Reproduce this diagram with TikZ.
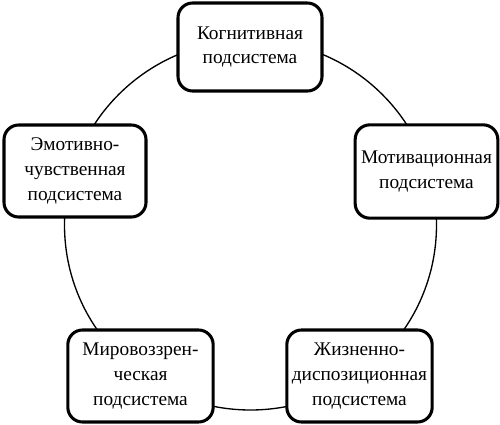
\documentclass[tikz,border=0pt]{standalone}
\usepackage{fontspec}
\setmainfont{Liberation Serif}
\begin{document}
\begin{tikzpicture}[x=0.75pt,y=-0.75pt,
  sub/.style={draw=black,line width=2.3pt,rounded corners=11pt,fill=white,
    align=center,font=\fontsize{14.5}{18.5}\selectfont,inner sep=0pt},
  ring/.style={draw=black,line width=1pt}]
\useasboundingbox (0,0) rectangle (500,425);
\coordinate (c) at (250.5,225);
\draw[ring] (c) ellipse[x radius=186*0.75pt,y radius=185*0.75pt];
\node[sub,minimum width=108pt,minimum height=66pt] (kog) at (250,47) {Когнитивная\\подсистема};
\node[sub,minimum width=106.5pt,minimum height=69pt] (emo) at (75,171) {Эмотивно-\\чувственная\\подсистема};
\node[sub,minimum width=107pt,minimum height=70pt] (mot) at (426.5,171.5) {Мотивационная\\подсистема};
\node[sub,minimum width=109pt,minimum height=69pt] (mir) at (140.5,376) {Мировоззрен-\\ческая\\подсистема};
\node[sub,minimum width=109pt,minimum height=69pt] (zhi) at (359.5,376) {Жизненно-\\диспозиционная\\подсистема};
\end{tikzpicture}
\end{document}
